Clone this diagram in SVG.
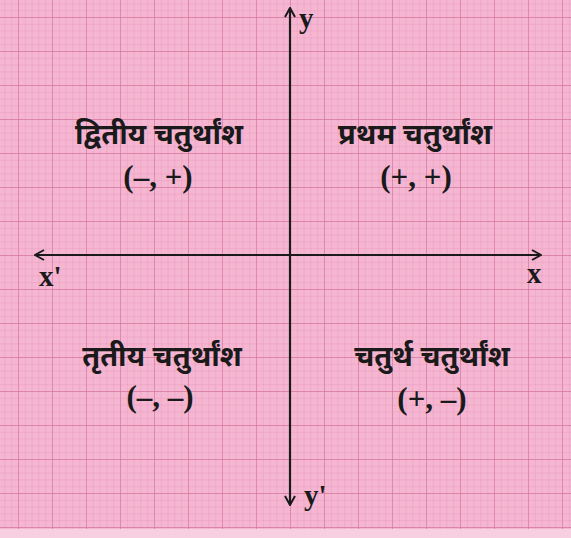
<svg xmlns="http://www.w3.org/2000/svg" width="571" height="538" viewBox="0 0 571 538">
<defs>
<pattern id="minor" x="18" y="17" width="6.8" height="6.8" patternUnits="userSpaceOnUse">
<path d="M0 0H6.8M0 0V6.8" fill="none" stroke="#e897ba" stroke-width="0.8"/>
</pattern>
<pattern id="major" x="18" y="17" width="34" height="34" patternUnits="userSpaceOnUse">
<path d="M0 0H34M0 0V34" fill="none" stroke="#d8779f" stroke-width="1.3"/>
</pattern>
<marker id="arr" viewBox="0 0 12 12" refX="11" refY="6" markerWidth="12" markerHeight="12" markerUnits="userSpaceOnUse" orient="auto-start-reverse">
<path d="M2 1L11 6L2 11" fill="none" stroke="#1a1a1a" stroke-width="2"/>
</marker>
<style>
.hi{font-family:"Noto Sans Devanagari","Noto Sans","Lohit Devanagari",sans-serif;font-weight:bold;font-size:29px;fill:#1a1a1a;text-anchor:middle}
.co{font-family:"Liberation Serif",serif;font-weight:bold;font-size:31px;fill:#1a1a1a;text-anchor:middle}
.ax{font-family:"Liberation Serif",serif;font-weight:bold;font-size:29px;fill:#1a1a1a}
</style>
</defs>
<rect width="571" height="538" fill="#f5b6d2"/>
<rect width="571" height="538" fill="url(#minor)"/>
<rect width="571" height="538" fill="url(#major)"/>
<rect x="0" y="529" width="571" height="9" fill="#f8cfe0"/>
<g id="connectors">
<line x1="290" y1="505" x2="290" y2="8" stroke="#1a1a1a" stroke-width="2.2" marker-start="url(#arr)" marker-end="url(#arr)"/>
<line x1="35" y1="255" x2="541" y2="255" stroke="#1a1a1a" stroke-width="2.2" marker-start="url(#arr)" marker-end="url(#arr)"/>
</g>
<g id="axis-labels">
<text class="ax" x="299" y="28">y</text>
<text class="ax" x="39" y="286">x'</text>
<text class="ax" x="527" y="283">x</text>
<text class="ax" x="304" y="505">y'</text>
</g>
<g id="q2">
<text class="hi" x="159" y="144">द्वितीय चतुर्थांश</text>
<text class="co" x="158" y="187">(–, +)</text>
</g>
<g id="q1">
<text class="hi" x="415" y="144">प्रथम चतुर्थांश</text>
<text class="co" x="416" y="187">(+, +)</text>
</g>
<g id="q3">
<text class="hi" x="162" y="366">तृतीय चतुर्थांश</text>
<text class="co" x="160" y="407">(–, –)</text>
</g>
<g id="q4">
<text class="hi" x="432" y="366">चतुर्थ चतुर्थांश</text>
<text class="co" x="432" y="409">(+, –)</text>
</g>
</svg>
